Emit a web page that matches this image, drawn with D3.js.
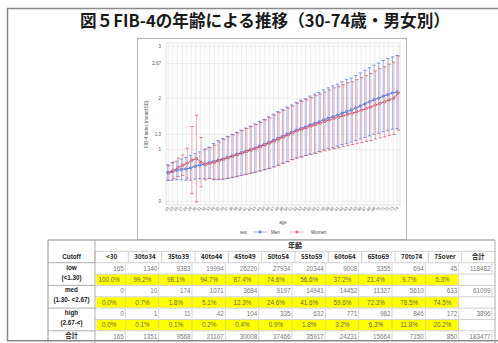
<!DOCTYPE html>
<html>
<head>
<meta charset="utf-8">
<script src="https://cdn.jsdelivr.net/npm/d3@7"></script>
<style>
  body { margin: 0; background: #fff; }
  svg { display: block; }
  text { font-family: "Liberation Sans", Arial, "Noto Sans CJK JP", sans-serif; }
  .jp { font-family: "Noto Sans CJK JP", "Liberation Sans", sans-serif; }
</style>
</head>
<body>
<svg id="fig" width="498" height="343"></svg>
<script>
// ---- chart data: FIB-4 mean and SD by age, men / women ----
const ages = [24,25,26,27,28,29,30,31,32,33,34,35,36,37,38,39,40,41,42,43,44,45,46,47,48,49,
              50,51,52,53,54,55,56,57,58,59,60,61,62,63,64,65,66,67,68,69,70,71,72,73,74];
const menMean = [0.56,0.58,0.60,0.62,0.63,0.65,0.68,0.70,0.72,0.75,0.77,0.80,0.82,0.85,0.88,0.91,0.94,
                 0.97,1.00,1.03,1.07,1.10,1.14,1.18,1.22,1.26,1.30,1.34,1.38,1.41,1.44,1.48,1.51,1.54,
                 1.58,1.61,1.64,1.67,1.71,1.74,1.77,1.81,1.85,1.89,1.93,1.97,2.00,2.04,2.07,2.10,2.12];
const menSD = [0.15,0.17,0.18,0.20,0.22,0.24,0.25,0.26,0.28,0.30,0.35,0.38,0.40,0.41,0.42,0.43,0.44,
               0.45,0.46,0.47,0.48,0.49,0.50,0.51,0.52,0.52,0.53,0.53,0.54,0.55,0.55,0.56,0.57,0.57,
               0.58,0.59,0.60,0.60,0.61,0.62,0.62,0.63,0.64,0.65,0.66,0.67,0.68,0.69,0.70,0.70,0.71];
const womenMean = [0.55,0.60,0.66,0.70,0.74,0.80,0.83,0.76,0.72,0.74,0.76,0.79,0.82,0.85,0.88,0.91,0.94,
                   0.97,1.00,1.03,1.06,1.10,1.13,1.17,1.21,1.25,1.29,1.33,1.37,1.40,1.43,1.46,1.49,1.52,
                   1.55,1.58,1.61,1.63,1.66,1.69,1.71,1.74,1.77,1.80,1.83,1.87,1.90,1.93,1.97,2.00,2.10];
const womenSD = [0.14,0.16,0.18,0.20,0.29,0.65,0.84,0.48,0.30,0.30,0.33,0.36,0.38,0.40,0.41,0.42,0.43,
                 0.44,0.45,0.46,0.47,0.48,0.49,0.50,0.51,0.51,0.52,0.52,0.53,0.54,0.54,0.55,0.56,0.56,
                 0.57,0.58,0.59,0.59,0.60,0.61,0.61,0.62,0.63,0.64,0.65,0.66,0.67,0.68,0.69,0.70,0.72];
const yTicks = [0, 1, 1.3, 2, 2.67, 3];
const yTickLabels = ["0", "1", "1.3", "2", "2.67", "3"];

// ---- table data: cutoff counts and shares by age group ----
const groups = ["<30","30to34","35to39","40to44","45to49","50to54","55to59","60to64","65to69","70to74","75over","合計"];
const lowN  = [165,1340,9383,19994,26220,27934,20344,9008,3355,694,45,118482];
const lowP  = ["100.0%","99.2%","98.1%","94.7%","87.4%","74.6%","56.6%","37.2%","21.4%","9.7%","5.3%"];
const medN  = [0,10,174,1071,3684,9197,14941,14452,11327,5610,633,61099];
const medP  = ["0.0%","0.7%","1.8%","5.1%","12.3%","24.6%","41.6%","59.6%","72.3%","78.5%","74.5%"];
const highN = [0,1,11,42,104,335,632,771,982,846,172,3896];
const highP = ["0.0%","0.1%","0.1%","0.2%","0.4%","0.9%","1.8%","3.2%","6.3%","11.8%","20.2%"];
const totalN = [165,1351,9568,21107,30008,37466,35917,24231,15664,7150,850,183477];

const titleText = "図５FIB-4の年齢による推移（30-74歳・男女別）";

const svg = d3.select("#fig");

// slide frame
svg.append("line").attr("x1", 7.5).attr("x2", 7.5).attr("y1", 8).attr("y2", 341)
  .attr("stroke", "#8a8a8a").attr("stroke-width", 1.5);
svg.append("line").attr("x1", 7).attr("x2", 498).attr("y1", 8.5).attr("y2", 8.5)
  .attr("stroke", "#8a8a8a").attr("stroke-width", 1.5);

// title
svg.append("text").attr("class", "jp")
  .attr("x", 265).attr("y", 27)
  .attr("text-anchor", "middle")
  .attr("font-size", 16.5).attr("font-weight", "bold").attr("fill", "#1a1a1a")
  .attr("textLength", 370).attr("lengthAdjust", "spacingAndGlyphs")
  .text(titleText);

// ---- chart panel ----
svg.append("rect").attr("x", 137.5).attr("y", 38.5).attr("width", 269).attr("height", 201.5)
  .attr("fill", "#fff").attr("stroke", "#b5b5b5").attr("stroke-width", 1);

const plot = { left: 166, right: 400, top: 43, bottom: 205 };
const x = d3.scalePoint().domain(ages).range([plot.left, plot.right]).padding(0.5);
const y = d3.scaleLinear().domain([-0.07, 3.07]).range([plot.bottom, plot.top]);

const g = svg.append("g");

// grid
g.selectAll("line.vg").data(ages).join("line").attr("class", "vg")
  .attr("x1", d => x(d)).attr("x2", d => x(d))
  .attr("y1", plot.top).attr("y2", plot.bottom)
  .attr("stroke", "#e4e4e4").attr("stroke-width", 0.6);
g.selectAll("line.hg").data(yTicks).join("line").attr("class", "hg")
  .attr("x1", plot.left).attr("x2", plot.right)
  .attr("y1", d => y(d)).attr("y2", d => y(d))
  .attr("stroke", "#e0e0e0").attr("stroke-width", 0.6);
g.append("rect").attr("x", plot.left).attr("y", plot.top)
  .attr("width", plot.right - plot.left).attr("height", plot.bottom - plot.top)
  .attr("fill", "none").attr("stroke", "#d0d0d0").attr("stroke-width", 0.6);

// y axis labels
g.selectAll("text.yt").data(yTicks).join("text").attr("class", "yt")
  .attr("x", 161).attr("y", d => y(d) + 1.5)
  .attr("text-anchor", "end").attr("font-size", 4.5).attr("fill", "#555")
  .text((d, i) => yTickLabels[i]);
g.append("text")
  .attr("transform", "translate(148,124) rotate(-90)")
  .attr("text-anchor", "middle").attr("font-size", 4.5).attr("fill", "#555")
  .text("FIB-4 index (mean±SD)");

// x axis labels
g.selectAll("text.xt").data(ages).join("text").attr("class", "xt")
  .attr("transform", d => `translate(${x(d) + 1},${208}) rotate(-50)`)
  .attr("text-anchor", "end").attr("font-size", 4).attr("fill", "#555")
  .text(d => d);
g.append("text").attr("x", 283).attr("y", 224)
  .attr("text-anchor", "middle").attr("font-size", 4.5).attr("fill", "#555").text("age");

// series
const series = [
  { name: "Men",   mean: menMean,   sd: menSD,   color: "#4a68cf", bar: "#8fa6e2", dx: -0.7 },
  { name: "Women", mean: womenMean, sd: womenSD, color: "#cf4760", bar: "#e9a0ad", dx: 0.7 }
];

series.forEach(s => {
  const pts = ages.map((a, i) => ({ a, m: s.mean[i], sd: s.sd[i] }));
  const eb = g.append("g");
  eb.selectAll("line.v").data(pts).join("line")
    .attr("x1", d => x(d.a) + s.dx).attr("x2", d => x(d.a) + s.dx)
    .attr("y1", d => y(d.m - d.sd)).attr("y2", d => y(d.m + d.sd))
    .attr("stroke", s.bar).attr("stroke-width", 0.8);
  eb.selectAll("line.t").data(pts).join("line")
    .attr("x1", d => x(d.a) + s.dx - 1.6).attr("x2", d => x(d.a) + s.dx + 1.6)
    .attr("y1", d => y(d.m + d.sd)).attr("y2", d => y(d.m + d.sd))
    .attr("stroke", s.color).attr("stroke-width", 0.7);
  eb.selectAll("line.b").data(pts).join("line")
    .attr("x1", d => x(d.a) + s.dx - 1.6).attr("x2", d => x(d.a) + s.dx + 1.6)
    .attr("y1", d => y(d.m - d.sd)).attr("y2", d => y(d.m - d.sd))
    .attr("stroke", s.color).attr("stroke-width", 0.7);
});

series.forEach(s => {
  const pts = ages.map((a, i) => ({ a, m: s.mean[i] }));
  g.append("path").datum(pts)
    .attr("fill", "none").attr("stroke", s.color).attr("stroke-width", 0.9)
    .attr("d", d3.line().x(d => x(d.a) + s.dx).y(d => y(d.m)));
  g.append("g").selectAll("circle").data(pts).join("circle")
    .attr("cx", d => x(d.a) + s.dx).attr("cy", d => y(d.m)).attr("r", 1.2)
    .attr("fill", s.bar).attr("stroke", s.color).attr("stroke-width", 0.6);
});

// legend
const lg = g.append("g").attr("transform", "translate(0,232)");
lg.append("text").attr("x", 240).attr("y", 1.5).attr("font-size", 4.5).attr("fill", "#444").text("sex");
[{ s: series[0], x0: 253, tx: 271 }, { s: series[1], x0: 290, tx: 311 }].forEach(o => {
  lg.append("line").attr("x1", o.x0).attr("x2", o.x0 + 14).attr("y1", 0).attr("y2", 0)
    .attr("stroke", o.s.bar).attr("stroke-width", 0.8);
  lg.append("circle").attr("cx", o.x0 + 7).attr("cy", 0).attr("r", 1.2)
    .attr("fill", o.s.bar).attr("stroke", o.s.color).attr("stroke-width", 0.6);
  lg.append("text").attr("x", o.tx).attr("y", 1.5).attr("font-size", 4.5).attr("fill", "#444").text(o.s.name);
});

// ---- table ----
const T = { left: 48, labelRight: 95, right: 495, top: 240, rowH: 11.35 };
const cx = d3.scaleBand().domain(groups).range([T.labelRight, T.right]);
const rowY = i => T.top + i * T.rowH;
const tb = svg.append("g");
const fs = 6.3;

tb.append("rect").attr("x", T.left).attr("y", T.top).attr("width", T.right - T.left).attr("height", 110)
  .attr("fill", "#fff").attr("stroke", "none");

// header: 年齢
tb.append("text").attr("class", "jp").attr("x", (T.labelRight + T.right) / 2).attr("y", rowY(0) + 8)
  .attr("text-anchor", "middle").attr("font-size", 7).attr("font-weight", "bold").attr("fill", "#222").text("年齢");
// header: column names
tb.append("text").attr("x", (T.left + T.labelRight) / 2).attr("y", rowY(1) + 8)
  .attr("text-anchor", "middle").attr("font-size", fs).attr("font-weight", "bold").attr("fill", "#222").text("Cutoff");
tb.selectAll("text.h").data(groups).join("text").attr("class", "h jp")
  .attr("x", d => cx(d) + cx.bandwidth() / 2).attr("y", rowY(1) + 8)
  .attr("text-anchor", "middle").attr("font-size", fs).attr("font-weight", "bold").attr("fill", "#222")
  .text(d => d);

const dataRows = [
  { kind: "n", vals: lowN }, { kind: "p", vals: lowP },
  { kind: "n", vals: medN }, { kind: "p", vals: medP },
  { kind: "n", vals: highN }, { kind: "p", vals: highP },
  { kind: "n", vals: totalN }
];

dataRows.forEach((r, k) => {
  const top = rowY(k + 2);
  if (r.kind === "p") {
    tb.append("rect").attr("x", T.labelRight + 1.5).attr("y", top + 0.5)
      .attr("width", cx(groups[groups.length - 1]) - 3 - (T.labelRight + 1.5)).attr("height", T.rowH - 1)
      .attr("fill", "#ffff00");
    tb.selectAll(null).data(groups.slice(0, -1)).join("line")
      .attr("x1", d => cx(d) + cx.bandwidth() - 3).attr("x2", d => cx(d) + cx.bandwidth() - 3)
      .attr("y1", top + 0.5).attr("y2", top + T.rowH - 0.5)
      .attr("stroke", "#c8c8a0").attr("stroke-width", 0.6);
    tb.selectAll(null).data(r.vals).join("text")
      .attr("x", (d, i) => cx(groups[i]) + cx.bandwidth() / 2 - 2.5).attr("y", top + 8)
      .attr("text-anchor", "middle").attr("font-size", fs).attr("fill", "#6a6a40").text(d => d);
  } else {
    tb.selectAll(null).data(groups).join("line")
      .attr("x1", d => cx(d) + cx.bandwidth() - 3).attr("x2", d => cx(d) + cx.bandwidth() - 3)
      .attr("y1", top + 1).attr("y2", top + T.rowH - 1)
      .attr("stroke", "#bdbdbd").attr("stroke-width", 0.6);
    tb.selectAll(null).data(r.vals).join("text")
      .attr("x", (d, i) => cx(groups[i]) + cx.bandwidth() - 4.5).attr("y", top + 8)
      .attr("text-anchor", "end").attr("font-size", fs).attr("fill", "#7a7a7a").text(d => d);
  }
  tb.append("line").attr("x1", T.labelRight).attr("x2", T.right)
    .attr("y1", top).attr("y2", top).attr("stroke", "#bdbdbd").attr("stroke-width", 0.7);
});

// header row separators
tb.selectAll(null).data(groups).join("line")
  .attr("x1", d => cx(d)).attr("x2", d => cx(d))
  .attr("y1", rowY(1)).attr("y2", rowY(2))
  .attr("stroke", "#bdbdbd").attr("stroke-width", 0.7);
tb.append("line").attr("x1", T.labelRight).attr("x2", T.right).attr("y1", rowY(1)).attr("y2", rowY(1))
  .attr("stroke", "#bdbdbd").attr("stroke-width", 0.7);

// row-group labels
const rowLabels = [
  { a: "low", b: "(<1.30)", r: 2 },
  { a: "med", b: "(1.30- <2.67)", r: 4 },
  { a: "high", b: "(2.67-<)", r: 6 }
];
const lx = (T.left + T.labelRight) / 2;
rowLabels.forEach(o => {
  tb.append("text").attr("x", lx).attr("y", rowY(o.r) + 7)
    .attr("text-anchor", "middle").attr("font-size", fs).attr("font-weight", "bold").attr("fill", "#222").text(o.a);
  tb.append("text").attr("x", lx).attr("y", rowY(o.r) + 17)
    .attr("text-anchor", "middle").attr("font-size", fs).attr("font-weight", "bold").attr("fill", "#222").text(o.b);
  tb.append("line").attr("x1", T.left).attr("x2", T.labelRight).attr("y1", rowY(o.r)).attr("y2", rowY(o.r))
    .attr("stroke", "#9a9a9a").attr("stroke-width", 0.8);
});
tb.append("line").attr("x1", T.left).attr("x2", T.labelRight).attr("y1", rowY(8)).attr("y2", rowY(8))
  .attr("stroke", "#9a9a9a").attr("stroke-width", 0.8);
tb.append("text").attr("class", "jp").attr("x", lx).attr("y", rowY(8) + 7.5)
  .attr("text-anchor", "middle").attr("font-size", fs).attr("font-weight", "bold").attr("fill", "#222").text("合計");

// table outline
tb.append("line").attr("x1", T.left).attr("x2", T.right).attr("y1", T.top).attr("y2", T.top)
  .attr("stroke", "#8f8f8f").attr("stroke-width", 1);
tb.append("line").attr("x1", T.left).attr("x2", T.left).attr("y1", T.top).attr("y2", 343)
  .attr("stroke", "#8f8f8f").attr("stroke-width", 1);
tb.append("line").attr("x1", T.labelRight).attr("x2", T.labelRight).attr("y1", T.top).attr("y2", 343)
  .attr("stroke", "#9a9a9a").attr("stroke-width", 0.8);
tb.append("line").attr("x1", T.right).attr("x2", T.right).attr("y1", T.top).attr("y2", 343)
  .attr("stroke", "#9a9a9a").attr("stroke-width", 0.8);

// bottom edge of the slide frame
svg.append("line").attr("x1", 7).attr("x2", 498).attr("y1", 340.8).attr("y2", 340.8)
  .attr("stroke", "#8a8a8a").attr("stroke-width", 1.6);
</script>
</body>
</html>
